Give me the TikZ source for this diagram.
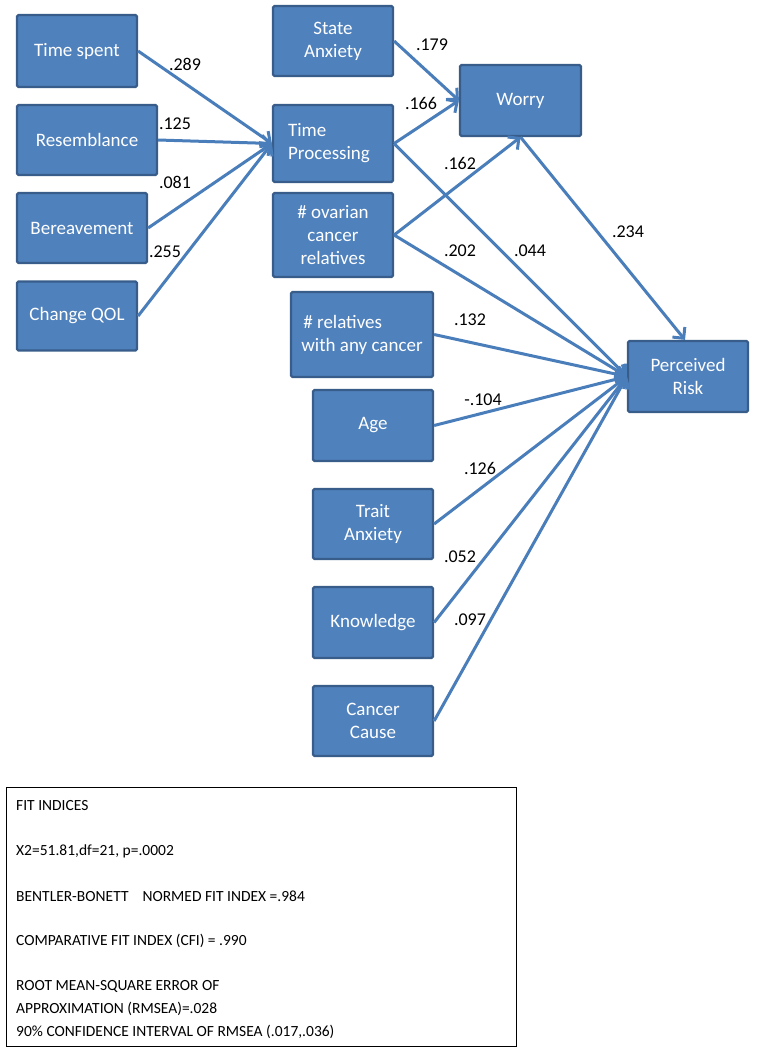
\documentclass[tikz,border=0pt]{standalone}
\usepackage{fontspec}
\setmainfont{Carlito}
\usetikzlibrary{arrows.meta}
\definecolor{boxfill}{HTML}{4F81BD}
\definecolor{boxline}{HTML}{385D8A}
\definecolor{arrowcol}{HTML}{4A7EBB}
\tikzset{
  vbox/.style={draw=boxline, fill=boxfill, line width=2.2pt, rounded corners=1.5pt, text=white, inner sep=2pt,
    font=\fontsize{19}{23}\selectfont, align=center},
  link/.style={draw=arrowcol, line width=3pt, -{Straight Barb[length=8pt,width=16pt]}},
  coef/.style={font=\fontsize{18}{21}\selectfont, text=black, inner sep=0pt},
  fitline/.style={font=\fontsize{15.5}{18}\selectfont, anchor=west, inner sep=0pt}
}
\begin{document}
\begin{tikzpicture}[x=1pt,y=-1pt]
\path[use as bounding box] (0,0) rectangle (756,1050);

% left column
\node[vbox, minimum width=120pt, minimum height=72pt] (ts) at (77,51) {Time spent};
\node[vbox, minimum width=140pt, minimum height=70pt] (res) at (87,140) {Resemblance};
\node[vbox, minimum width=130pt, minimum height=70pt] (ber) at (82,228) {Bereavement};
\node[vbox, minimum width=120pt, minimum height=69pt] (qol) at (77,316) {Change QOL};

% middle column
\node[vbox, minimum width=120pt, minimum height=70pt] (sa) at (333,41) {State\\Anxiety};
\node[vbox, minimum width=120pt, minimum height=77pt, align=left] (tp) at (333,143.5) {Time\\Processing\hspace*{8pt}};
\node[vbox, minimum width=120pt, minimum height=84pt] (ov) at (333,235) {\# ovarian\\cancer\\relatives};
\node[vbox, minimum width=142pt, minimum height=85pt, align=left] (rel) at (362,334.5) {\hspace*{2pt}\# relatives\\with any cancer};
\node[vbox, minimum width=120pt, minimum height=71pt] (age) at (373,425.5) {Age};
\node[vbox, minimum width=120pt, minimum height=70pt] (trait) at (373,524) {Trait\\Anxiety};
\node[vbox, minimum width=120pt, minimum height=71pt] (know) at (373,622.5) {Knowledge};
\node[vbox, minimum width=120pt, minimum height=70pt] (cause) at (373,721) {Cancer\\Cause};

% right column
\node[vbox, minimum width=121pt, minimum height=71pt] (worry) at (520.5,100.5) {Worry};
\node[vbox, minimum width=120pt, minimum height=71pt] (pr) at (688,376.5) {Perceived\\Risk};

% connectors
\draw[link] (ts.east) -- (tp.west);
\draw[link] (res.east) -- (tp.west);
\draw[link] (ber.east) -- (tp.west);
\draw[link] (qol.east) -- (tp.west);
\draw[link] (sa.east) -- (worry.west);
\draw[link] (tp.east) -- (worry.west);
\draw[link] (ov.east) -- (worry.south);
\draw[link] (worry.south) -- ([xshift=-3pt]pr.north);
\draw[link] (tp.east) -- (pr.west);
\draw[link] (ov.east) -- (pr.west);
\draw[link] (rel.east) -- (pr.west);
\draw[link] (age.east) -- (pr.west);
\draw[link] (trait.east) -- (pr.west);
\draw[link] (know.east) -- (pr.west);
\draw[link] (cause.east) -- (pr.west);

% coefficients
\node[coef] (c1) at (185,64) {.289};
\node[coef] (c2) at (175,124) {.125};
\node[coef] (c3) at (175,182) {.081};
\node[coef] (c4) at (165,252) {.255};
\node[coef] (c5) at (432,45) {.179};
\node[coef] (c6) at (421,103) {.166};
\node[coef] (c7) at (460,163) {.162};
\node[coef] (c8) at (460,251) {.202};
\node[coef] (c9) at (530,251) {.044};
\node[coef] (c10) at (628,232) {.234};
\node[coef] (c11) at (470,320) {.132};
\node[coef] (c12) at (483,400) {-.104};
\node[coef] (c13) at (480,468) {.126};
\node[coef] (c14) at (460,557) {.052};
\node[coef] (c15) at (470,620) {.097};

% fit indices box
\node[draw=black, line width=1pt, minimum width=510pt, minimum height=259pt, inner sep=0pt] (fit) at (261,916.5) {};
\node[fitline] (f1) at (16,806) {FIT INDICES};
\node[fitline] (f2) at (16,851) {X2=51.81,df=21, p=.0002};
\node[fitline] (f3) at (16,896) {BENTLER-BONETT\hspace{14pt}NORMED FIT INDEX =.984};
\node[fitline] (f4) at (16,941) {COMPARATIVE FIT INDEX (CFI) = .990};
\node[fitline] (f5) at (16,986) {ROOT MEAN-SQUARE ERROR OF};
\node[fitline] (f6) at (16,1009) {APPROXIMATION (RMSEA)=.028};
\node[fitline] (f7) at (16,1032) {90\% CONFIDENCE INTERVAL OF RMSEA (.017,.036)};
\end{tikzpicture}
\end{document}
